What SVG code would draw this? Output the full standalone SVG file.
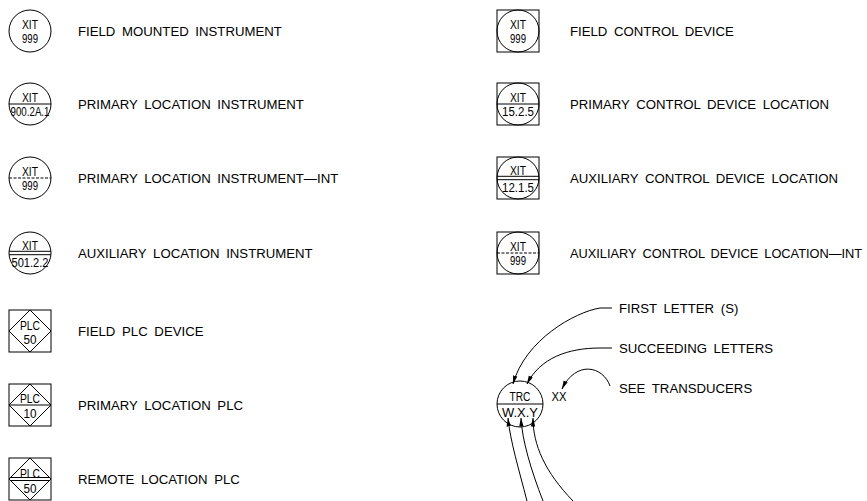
<svg xmlns="http://www.w3.org/2000/svg" width="867" height="501" viewBox="0 0 867 501">
<defs>
<style>
.lbl{font-family:"Liberation Sans",Arial,sans-serif;font-size:13.2px;word-spacing:3px;fill:#000}
.lbl2{font-family:"Liberation Sans",Arial,sans-serif;font-size:12.8px;word-spacing:2.5px;fill:#000}
.sym{font-family:"Liberation Sans",Arial,sans-serif;font-size:12.5px;fill:#000;text-anchor:middle}
.ln{fill:none;stroke:#000;stroke-width:1}
.dash{fill:none;stroke:#000;stroke-width:1;stroke-dasharray:3 1.5}
.con{fill:none;stroke:#000;stroke-width:1}
</style>
<marker id="ah" markerWidth="9" markerHeight="6" refX="8.5" refY="3" orient="auto" markerUnits="userSpaceOnUse">
<path d="M0,0.8 L9,3 L0,5.2 z" fill="#000"/>
</marker>
</defs>
<rect width="867" height="501" fill="#fff"/>

<g id="n-field-mounted">
<circle class="ln" cx="30" cy="31" r="21"/>
<text class="sym" x="30" y="29" textLength="16" lengthAdjust="spacingAndGlyphs">XIT</text>
<text class="sym" x="30" y="43" textLength="16" lengthAdjust="spacingAndGlyphs">999</text>
<text class="lbl" x="78" y="36">FIELD MOUNTED INSTRUMENT</text>
</g>

<g id="n-primary-location">
<circle class="ln" cx="30" cy="104" r="21"/>
<line class="ln" x1="9" y1="104" x2="51" y2="104"/>
<text class="sym" x="30" y="102" textLength="16" lengthAdjust="spacingAndGlyphs">XIT</text>
<text class="sym" x="30" y="115.5" textLength="39" lengthAdjust="spacingAndGlyphs">900.2A.1</text>
<text class="lbl" x="78" y="109">PRIMARY LOCATION INSTRUMENT</text>
</g>

<g id="n-primary-location-int">
<circle class="ln" cx="30" cy="178" r="21"/>
<line class="dash" x1="9" y1="178" x2="51" y2="178"/>
<text class="sym" x="30" y="176" textLength="16" lengthAdjust="spacingAndGlyphs">XIT</text>
<text class="sym" x="30" y="189.5" textLength="16" lengthAdjust="spacingAndGlyphs">999</text>
<text class="lbl" x="78" y="183">PRIMARY LOCATION INSTRUMENT—INT</text>
</g>

<g id="n-auxiliary-location">
<circle class="ln" cx="30" cy="253" r="21"/>
<line class="ln" x1="9.1" y1="251.3" x2="50.9" y2="251.3"/>
<line class="ln" x1="9.1" y1="254.7" x2="50.9" y2="254.7"/>
<text class="sym" x="30" y="249.5" textLength="16" lengthAdjust="spacingAndGlyphs">XIT</text>
<text class="sym" x="30" y="266.5" textLength="37" lengthAdjust="spacingAndGlyphs">501.2.2</text>
<text class="lbl" x="78" y="258">AUXILIARY LOCATION INSTRUMENT</text>
</g>

<g id="n-field-plc">
<rect class="ln" x="9" y="310" width="42" height="42"/>
<polygon class="ln" points="30,310 51,331 30,352 9,331"/>
<text class="sym" x="30" y="330" textLength="20" lengthAdjust="spacingAndGlyphs">PLC</text>
<text class="sym" x="30" y="344" textLength="13" lengthAdjust="spacingAndGlyphs">50</text>
<text class="lbl" x="78" y="336">FIELD PLC DEVICE</text>
</g>

<g id="n-primary-plc">
<rect class="ln" x="9" y="384" width="42" height="42"/>
<polygon class="ln" points="30,384 51,405 30,426 9,405"/>
<line class="ln" x1="9" y1="405" x2="51" y2="405"/>
<text class="sym" x="30" y="403" textLength="20" lengthAdjust="spacingAndGlyphs">PLC</text>
<text class="sym" x="30" y="418" textLength="13" lengthAdjust="spacingAndGlyphs">10</text>
<text class="lbl" x="78" y="410">PRIMARY LOCATION PLC</text>
</g>

<g id="n-remote-plc">
<rect class="ln" x="9" y="458" width="42" height="42"/>
<polygon class="ln" points="30,458 51,479 30,500 9,479"/>
<line class="ln" x1="10.5" y1="477.5" x2="49.5" y2="477.5"/>
<line class="ln" x1="10.5" y1="480.5" x2="49.5" y2="480.5"/>
<text class="sym" x="30" y="478" textLength="20" lengthAdjust="spacingAndGlyphs">PLC</text>
<text class="sym" x="30" y="493" textLength="13" lengthAdjust="spacingAndGlyphs">50</text>
<text class="lbl" x="78" y="484">REMOTE LOCATION PLC</text>
</g>

<g id="n-field-control">
<rect class="ln" x="497" y="10" width="42" height="42"/>
<circle class="ln" cx="518" cy="31" r="21"/>
<text class="sym" x="518" y="29" textLength="16" lengthAdjust="spacingAndGlyphs">XIT</text>
<text class="sym" x="518" y="43" textLength="16" lengthAdjust="spacingAndGlyphs">999</text>
<text class="lbl" x="570" y="36">FIELD CONTROL DEVICE</text>
</g>

<g id="n-primary-control">
<rect class="ln" x="497" y="83" width="42" height="42"/>
<circle class="ln" cx="518" cy="104" r="21"/>
<line class="ln" x1="497" y1="104" x2="539" y2="104"/>
<text class="sym" x="518" y="102" textLength="16" lengthAdjust="spacingAndGlyphs">XIT</text>
<text class="sym" x="518" y="115.5" textLength="32" lengthAdjust="spacingAndGlyphs">15.2.5</text>
<text class="lbl" x="570" y="109">PRIMARY CONTROL DEVICE LOCATION</text>
</g>

<g id="n-auxiliary-control">
<rect class="ln" x="497" y="157" width="42" height="42"/>
<circle class="ln" cx="518" cy="178" r="21"/>
<line class="ln" x1="497.1" y1="176.3" x2="538.9" y2="176.3"/>
<line class="ln" x1="497.1" y1="179.7" x2="538.9" y2="179.7"/>
<text class="sym" x="518" y="174.5" textLength="16" lengthAdjust="spacingAndGlyphs">XIT</text>
<text class="sym" x="518" y="191.5" textLength="32" lengthAdjust="spacingAndGlyphs">12.1.5</text>
<text class="lbl" x="570" y="183">AUXILIARY CONTROL DEVICE LOCATION</text>
</g>

<g id="n-auxiliary-control-int">
<rect class="ln" x="497" y="232" width="42" height="42"/>
<circle class="ln" cx="518" cy="253" r="21"/>
<line class="dash" x1="497" y1="253" x2="539" y2="253"/>
<text class="sym" x="518" y="251" textLength="16" lengthAdjust="spacingAndGlyphs">XIT</text>
<text class="sym" x="518" y="264.5" textLength="16" lengthAdjust="spacingAndGlyphs">999</text>
<text class="lbl2" x="570" y="258">AUXILIARY CONTROL DEVICE LOCATION—INT</text>
</g>

<g id="n-trc">
<circle class="ln" cx="520" cy="404" r="23"/>
<line class="ln" x1="497" y1="404" x2="543" y2="404"/>
<text class="sym" x="520" y="401" textLength="21" lengthAdjust="spacingAndGlyphs">TRC</text>
<text class="sym" x="520" y="417" textLength="36" lengthAdjust="spacingAndGlyphs">W.X.Y</text>
</g>

<g id="n-xx">
<text class="sym" x="559" y="401" textLength="15" lengthAdjust="spacingAndGlyphs">XX</text>
</g>

<g id="n-first-letter">
<text class="lbl" x="619" y="313">FIRST LETTER (S)</text>
</g>
<g id="n-succeeding">
<text class="lbl" x="619" y="353">SUCCEEDING LETTERS</text>
</g>
<g id="n-see-transducers">
<text class="lbl" x="619" y="393">SEE TRANSDUCERS</text>
</g>

<g id="connectors">
<path class="con" d="M612,308 L600,308 C575,312 525,340 513,384" marker-end="url(#ah)"/>
<path class="con" d="M612,348 L600,348 C568,348 540,358 527,384" marker-end="url(#ah)"/>
<path class="con" d="M610,386 C603,366 576,360 562,389" marker-end="url(#ah)"/>
<path class="con" d="M527,501 C519,470 510,440 508,418" marker-end="url(#ah)"/>
<path class="con" d="M543,501 C531,470 522,440 521,418" marker-end="url(#ah)"/>
<path class="con" d="M573,501 C545,472 533,445 533,418" marker-end="url(#ah)"/>
</g>
</svg>
